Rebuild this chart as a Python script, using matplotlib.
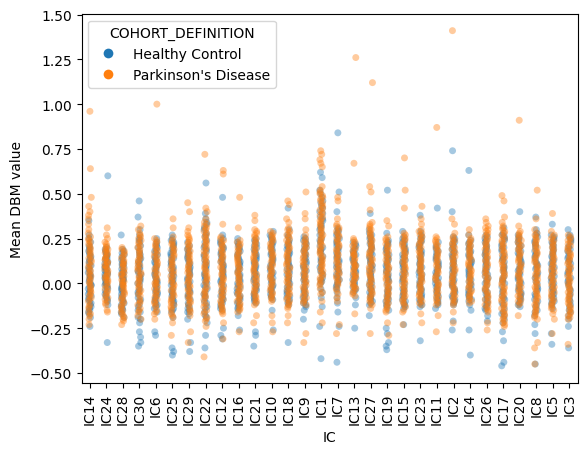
import numpy as np
import pandas as pd
import matplotlib
matplotlib.use("Agg")
import matplotlib.pyplot as plt
from matplotlib.lines import Line2D
import seaborn as sns

# Category order on the x axis
ICS = ["IC14", "IC24", "IC28", "IC30", "IC6", "IC25", "IC29", "IC22", "IC12", "IC16",
       "IC21", "IC10", "IC18", "IC9", "IC1", "IC7", "IC13", "IC27", "IC19", "IC15",
       "IC23", "IC11", "IC2", "IC4", "IC26", "IC17", "IC20", "IC8", "IC5", "IC3"]
GROUPS = ["Healthy Control", "Parkinson's Disease"]

# Values in hundredths of a DBM unit
HC_IC14 = [-24,-19,-17,-15,-13,-11,-9,-8,-6,-5,-3,-2,0,1,3,4,6,7,9,11,12,14,16,18,20,23,27,35, -14,-7,-1,5,10,15,19,
           -16,-12,-4,2,8,13,17,21,25,-10,-1,4]
PD_IC14 = [-23,-20,-18,-16,-14,-12,-10,-9,-7,-6,-4,-3,-1,0,2,3,5,6,8,9,11,12,14,15,17,19,21,23,25,28,30,33,36,38,40,43,48,64,96,
           -17,-13,-8,-5,-2,1,4,7,10,13,16,18,20,22,24,26]
HC_IC24 = [-33,-12,-10,-8,-6,-5,-3,-2,0,1,2,4,5,6,8,9,10,11,13,14,15,17,18,20,60, -7,-1,3,7,12,16,
           -9,-4,0,3,5,7,9,11,14,16,19,-1]
PD_IC24 = [-16,-15,-12,-10,-9,-7,-6,-4,-3,-2,0,1,2,3,4,5,7,8,9,10,11,12,13,14,16,17,18,19,20,21,23,25,27,31,
           -11,-8,-5,-1,2,4,6,8,10,12,14,15,17,19,22]
HC_IC28 = [-19,-17,-15,-13,-11,-9,-8,-6,-5,-3,-2,0,1,3,4,5,7,8,10,11,13,15,17,19,27, -16,-10,-4,2,6,12,18,
           -14,-12,-7,-1,2,4,6,9,11,14,16,-3]
PD_IC28 = [-23,-21,-20,-18,-16,-15,-13,-12,-10,-9,-7,-6,-5,-3,-2,-1,0,1,2,4,5,6,7,9,10,11,12,14,15,16,18,19,20,
           -19,-17,-14,-11,-8,-4,-1,1,3,5,8,11,13,17]
HC_IC30 = [-35,-33,-30,-27,-22,-19,-16,-13,-10,-8,-5,-3,-1,1,3,5,7,9,11,13,15,18,21,24,27,30,37,46, -15,-6,0,6,12,17,23,
           -20,-12,-9,-4,2,4,8,10,14,16,20,25]
PD_IC30 = [-20,-18,-16,-14,-12,-10,-9,-7,-5,-4,-2,-1,0,2,3,5,6,8,9,11,12,14,15,17,18,20,22,24,26,28,30,32,
           -15,-11,-6,-3,1,4,7,10,13,16,19,21,23,25,27]
HC_IC6 = [-29,-27,-16,-14,-12,-10,-8,-6,-5,-3,-1,0,2,3,5,7,9,11,13,15,17,19,21,23,25, -11,-4,1,6,10,16,20,
          -13,-9,-7,-2,1,4,8,12,14,18,22,-5]
PD_IC6 = [-20,-17,-15,-13,-12,-10,-8,-7,-5,-4,-2,-1,0,1,3,4,5,7,8,9,11,12,13,15,16,18,19,21,22,24,25,100,
          -16,-11,-9,-6,-3,0,2,6,10,14,17,20,23]
HC_IC25 = [-40,-38,-36,-19,-16,-14,-11,-9,-7,-5,-3,-1,1,3,5,7,9,11,13,15,17,19,21,23,25,27, -12,-6,0,6,12,18,24,
           -15,-10,-8,-4,2,4,8,10,14,16,20,22]
PD_IC25 = [-29,-22,-19,-17,-15,-13,-11,-10,-8,-6,-5,-3,-2,0,1,3,4,6,7,9,10,12,13,15,16,18,19,21,22,24,26,31,36,
           -18,-14,-12,-9,-7,-4,-1,2,5,8,11,14,17,20,23]
HC_IC29 = [-38,-33,-20,-17,-15,-13,-11,-9,-7,-5,-3,-1,1,3,5,7,9,11,13,15,17,19,21,23, -14,-6,0,6,12,18,
           -16,-12,-8,-4,2,4,8,10,14,16,20,-2]
PD_IC29 = [-33,-27,-18,-16,-14,-12,-10,-9,-7,-5,-4,-2,-1,1,2,4,5,7,8,10,11,13,14,16,17,19,21,23,25,27,29,31,40,45,
           -15,-11,-8,-6,-3,0,3,6,9,12,15,18,20,22,24,26]
HC_IC22 = [-36,-29,-22,-19,-16,-13,-10,-8,-5,-3,-1,1,3,5,8,10,12,15,18,21,24,27,30,33,36,39,56, -14,-6,0,6,13,20,28,34,
           -18,-11,-7,-2,2,4,9,11,16,19,23,26,31]
PD_IC22 = [-41,-24,-21,-19,-17,-15,-13,-11,-9,-7,-5,-4,-2,0,2,3,5,7,9,10,12,14,16,18,20,22,24,26,28,30,32,34,36,40,42,72,
           -20,-16,-12,-8,-6,-3,1,4,6,8,11,13,15,17,19,21,23,25,27,29,31,33]
HC_IC12 = [-31,-29,-25,-15,-13,-11,-9,-7,-5,-3,-1,1,3,5,7,9,11,13,15,17,19,21,23,25,27,48, -12,-6,0,6,12,18,24,
           -14,-10,-8,-4,2,4,8,10,14,16,20,22]
PD_IC12 = [-31,-22,-17,-15,-13,-12,-10,-8,-7,-5,-4,-2,-1,1,2,4,5,7,8,10,11,13,14,16,17,19,20,22,24,26,33,61,63,
           -16,-14,-11,-9,-6,-3,0,3,6,9,12,15,18,21,23,25]
HC_IC16 = [-26,-18,-15,-13,-11,-9,-7,-5,-3,-1,1,3,5,7,9,11,13,15,17,19,21,23,25, -12,-6,0,6,12,18,22,
           -14,-10,-8,-4,2,4,8,10,14,16,20,-2]
PD_IC16 = [-27,-16,-14,-12,-11,-9,-7,-6,-4,-3,-1,0,2,3,5,6,8,9,11,12,14,15,17,18,20,21,23,24,31,48,
           -15,-13,-10,-8,-5,-2,1,4,7,10,13,16,19,22]
HC_IC21 = [-35,-29,-27,-11,-9,-7,-5,-3,-1,1,3,5,7,9,11,13,15,17,19,21,23,25, -8,-2,4,10,16,22,
           -10,-6,-4,0,2,6,8,12,14,18,20,24]
PD_IC21 = [-22,-18,-12,-10,-9,-7,-6,-4,-3,-1,0,2,3,5,6,8,9,11,12,14,15,17,18,20,21,23,25,27,29,30,35,38,
           -11,-8,-5,-2,1,4,7,10,13,16,19,22,24,26,28]
HC_IC10 = [-26,-15,-9,-7,-5,-3,-1,1,3,5,7,9,11,13,15,17,19,21,23,25,27,29, -6,0,6,12,18,24,
           -8,-4,-2,2,4,8,10,14,16,20,22,26]
PD_IC10 = [-27,-22,-18,-10,-8,-7,-5,-4,-2,-1,1,2,4,5,7,8,10,11,13,14,16,17,19,20,22,23,25,27,29,
           -9,-6,-3,0,3,6,9,12,15,18,21,24,26,28]
HC_IC18 = [-33,-12,-10,-8,-6,-4,-2,0,2,4,6,8,10,12,14,16,18,20,22,24,27,30,42, -9,-3,3,9,15,21,26,
           -11,-7,-5,-1,1,5,7,11,13,17,19,23]
PD_IC18 = [-22,-18,-14,-12,-10,-9,-7,-5,-4,-2,-1,1,2,4,5,7,8,10,11,13,15,17,19,21,23,25,27,29,31,34,36,44,46,
           -13,-11,-8,-6,-3,0,3,6,9,12,14,16,18,20,22,24,26,28,30]
HC_IC9 = [-20,-15,-12,-10,-8,-6,-4,-2,0,2,4,6,8,10,12,14,16,18,20,22,24,26, -11,-5,1,7,13,19,25,
          -13,-9,-7,-3,3,5,9,11,15,17,21,23]
PD_IC9 = [-33,-28,-12,-10,-9,-7,-5,-4,-2,-1,1,2,4,5,7,8,10,11,13,14,16,17,19,20,22,24,27,30,36,39,51,
          -11,-8,-6,-3,0,3,6,9,12,15,18,21,23,25]
HC_IC1 = [-42,-24,-13,-8,-3,0,3,6,9,12,15,18,21,24,27,30,33,36,39,42,45,48,52,59,62, 1,7,13,19,25,31,37,43,
          -5,2,5,10,14,17,20,23,28,32,35,40,46,50]
PD_IC1 = [-22,-16,-10,-6,-3,0,2,4,6,8,10,12,14,16,18,20,22,24,26,28,30,32,34,36,38,40,42,44,46,48,50,52,54,65,67,69,72,74,
          -5,-1,1,3,5,7,9,11,13,15,17,19,21,23,25,27,29,31,33,35,37,39,41,43,45,47,49,51]
HC_IC7 = [-44,-24,-16,-11,-5,-3,-1,1,3,5,7,9,11,13,15,17,19,21,23,25,27,29,31,40,51,84, -2,4,10,16,22,28,
          -8,0,2,6,8,12,14,18,20,24,26,30]
PD_IC7 = [-28,-23,-10,-6,-3,-1,1,2,4,5,7,8,10,11,13,14,16,17,19,20,22,23,25,26,28,29,31,33,36,46,48,
          -8,-4,0,3,6,9,12,15,18,21,24,27,30,32]
HC_IC13 = [-25,-12,-5,-3,-1,1,3,5,7,9,11,13,15,17,19,21,23, -2,4,10,16,22,
           -4,0,2,6,8,12,14,18,20,-8]
PD_IC13 = [-17,-7,-4,-2,-1,1,2,4,5,7,8,10,11,13,14,16,17,19,20,22,23,25,67,126,
           -5,-3,0,3,6,9,12,15,18,21,24,-6,-2,4,10,16]
HC_IC27 = [-18,-12,-10,-8,-6,-4,-2,0,2,4,6,8,10,12,14,16,18,20,22,24,26,28,30,39, -9,-3,3,9,15,21,27,
           -11,-7,-5,-1,1,5,7,11,13,17,19,23,25]
PD_IC27 = [-28,-14,-11,-9,-7,-6,-4,-2,-1,1,3,4,6,7,9,10,12,14,15,17,18,20,22,23,25,27,29,31,33,34,41,51,54,112,
           -12,-10,-8,-5,-3,0,2,5,8,11,13,16,19,21,24,26,28,30,32]
HC_IC19 = [-37,-35,-33,-28,-25,-15,-12,-10,-8,-6,-4,-2,0,2,4,6,8,10,12,14,16,18,20,22,24,28,52, -11,-5,1,7,13,19,
           -13,-9,-7,-3,3,5,9,11,15,17,21,23]
PD_IC19 = [-29,-22,-16,-14,-12,-10,-9,-7,-5,-4,-2,-1,1,2,4,5,7,8,10,11,13,14,16,17,19,20,22,24,26,32,35,
           -15,-13,-11,-8,-6,-3,0,3,6,9,12,15,18,21,23,25]
HC_IC15 = [-23,-14,-12,-10,-8,-6,-4,-2,0,2,4,6,8,10,12,14,16,18,20,22,24,26,29, -11,-5,1,7,13,19,25,
           -13,-9,-7,-3,3,5,9,11,15,17,21,23]
PD_IC15 = [-23,-16,-13,-11,-10,-8,-6,-5,-3,-2,0,1,3,4,6,7,9,10,12,13,15,16,18,19,21,22,24,26,28,42,52,70,
           -15,-12,-9,-7,-4,-1,2,5,8,11,14,17,20,23,25,27]
HC_IC23 = [-32,-13,-11,-9,-7,-5,-3,-1,1,3,5,7,9,11,13,15,17,19,21,23,25,27,29,38, -10,-4,2,8,14,20,26,
           -12,-8,-6,-2,0,4,6,10,12,16,18,22,24]
PD_IC23 = [-22,-17,-12,-10,-9,-7,-6,-4,-3,-1,0,2,3,5,6,8,9,11,12,14,15,17,18,20,22,24,26,28,30,33,36,43,
           -11,-8,-5,-2,1,4,7,10,13,16,19,21,23,25,27,29]
HC_IC11 = [-14,-11,-9,-7,-5,-3,-1,1,3,5,7,9,11,13,15,17,19,21,23,42, -10,-4,2,8,14,20,
           -12,-8,-6,-2,0,4,6,10,12,16,18]
PD_IC11 = [-27,-18,-12,-10,-9,-7,-6,-4,-3,-1,0,2,3,5,6,8,9,11,12,14,15,17,18,20,22,24,26,87,
           -11,-8,-5,-2,1,4,7,10,13,16,19,21,23,25]
HC_IC2 = [-26,-21,-12,-10,-8,-6,-4,-2,0,2,4,6,8,10,12,14,16,18,20,22,24,26,40,74, -9,-3,3,9,15,21,25,
          -11,-7,-5,-1,1,5,7,11,13,17,19,23]
PD_IC2 = [-22,-16,-12,-10,-9,-7,-6,-4,-3,-1,0,2,3,5,6,8,9,11,12,14,15,17,18,20,21,23,25,28,33,36,141,
          -11,-8,-5,-2,1,4,7,10,13,16,19,22,24,26]
HC_IC4 = [-40,-26,-15,-10,-8,-6,-4,-2,0,2,4,6,8,10,12,14,16,18,20,22,24,27,63, -9,-3,3,9,15,21,
          -12,-7,-5,-1,1,5,7,11,13,17,19,23]
PD_IC4 = [-11,-9,-8,-6,-5,-3,-2,0,1,3,4,6,7,9,10,12,13,15,16,18,19,21,22,24,25,30,
          -10,-7,-4,-1,2,5,8,11,14,17,20,23,27]
HC_IC26 = [-21,-15,-13,-11,-9,-7,-5,-3,-1,1,3,5,7,9,11,13,15,17,19,21,23,25,27, -12,-6,0,6,12,18,24,
           -18,-14,-10,-8,-4,2,4,8,10,14,16,20,22,26]
PD_IC26 = [-26,-22,-16,-14,-12,-10,-9,-7,-5,-4,-2,-1,1,2,4,5,7,8,10,11,13,14,16,18,20,22,24,26,28,30,32,34,36,
           -15,-13,-11,-8,-6,-3,0,3,6,9,12,15,17,19,21,23,25,27,29,31]
HC_IC17 = [-46,-44,-32,-27,-20,-17,-14,-11,-8,-5,-2,1,4,7,10,13,16,19,22,25,28,31, -16,-7,2,8,14,20,26,
           -22,-18,-12,-9,-4,0,3,6,9,12,15,18,21,24,27]
PD_IC17 = [-24,-22,-20,-18,-16,-14,-12,-10,-8,-6,-4,-2,0,2,4,6,8,10,12,14,16,18,20,22,24,26,28,30,32,34,37,46,49,
           -23,-21,-19,-17,-15,-13,-11,-9,-7,-5,-3,-1,1,3,5,7,9,11,13,15,17,19,21,23,25,27,29,31]
HC_IC20 = [-13,-11,-9,-7,-5,-3,-1,1,3,5,7,9,11,13,15,17,19,21,23,25,27,40, -10,-4,2,8,14,20,26,
           -12,-8,-6,-2,0,4,6,10,12,16,18,22,24]
PD_IC20 = [-18,-12,-10,-9,-7,-6,-4,-3,-1,0,2,3,5,6,8,9,11,12,14,15,17,18,20,21,23,25,27,29,32,91,
           -11,-8,-5,-2,1,4,7,10,13,16,19,22,24,26,28]
HC_IC8 = [-45,-28,-23,-18,-15,-12,-9,-6,-3,0,3,6,9,12,15,18,21,24,27,30,37, -13,-4,4,10,16,22,28,
          -16,-10,-7,-2,1,5,8,11,14,17,20,23,26]
PD_IC8 = [-45,-36,-33,-20,-18,-16,-14,-12,-10,-8,-6,-4,-2,0,2,4,6,8,10,12,14,16,18,20,22,24,26,28,30,36,52,
          -19,-17,-15,-13,-11,-9,-7,-5,-3,-1,1,3,5,7,9,11,13,15,17,19,21,23,25,27]
HC_IC5 = [-34,-28,-14,-11,-9,-7,-5,-3,-1,1,3,5,7,9,11,13,15,17,19,21,23,25,27,33, -10,-4,2,8,14,20,26,
          -12,-8,-6,-2,0,4,6,10,12,16,18,22,24]
PD_IC5 = [-28,-20,-17,-14,-12,-10,-9,-7,-5,-4,-2,-1,1,2,4,5,7,8,10,11,13,14,16,17,19,21,23,25,27,29,39,
          -15,-13,-11,-8,-6,-3,0,3,6,9,12,15,18,20,22,24,26]
HC_IC3 = [-36,-24,-18,-15,-12,-9,-6,-3,0,3,6,9,12,15,18,21,24,27,30, -16,-10,-4,2,8,14,20,26,
          -20,-13,-7,-1,1,5,7,11,13,17,19,23,25]
PD_IC3 = [-34,-20,-18,-16,-14,-12,-10,-8,-6,-4,-2,0,2,4,6,8,10,12,14,16,18,20,22,24,26,27,
          -19,-17,-15,-13,-11,-9,-7,-5,-3,-1,1,3,5,7,9,11,13,15,17,19,21,23,25]

HC = {ic: globals()["HC_" + ic] for ic in ICS}
PD = {ic: globals()["PD_" + ic] for ic in ICS}

rows = []
for ic in ICS:
    for v in HC[ic]:
        rows.append((ic, GROUPS[0], v / 100.0))
    for v in PD[ic]:
        rows.append((ic, GROUPS[1], v / 100.0))
df = pd.DataFrame(rows, columns=["IC", "COHORT_DEFINITION", "Mean DBM value"])

np.random.seed(3)
fig, ax = plt.subplots(figsize=(6.4, 4.8), dpi=100)
sns.stripplot(data=df, x="IC", y="Mean DBM value", hue="COHORT_DEFINITION",
              order=ICS, hue_order=GROUPS, alpha=0.4, size=5, jitter=True, ax=ax,
              legend=False)
ax.set_ylim(-0.557, 1.505)
ax.set_yticks([-0.5, -0.25, 0.0, 0.25, 0.5, 0.75, 1.0, 1.25, 1.5])
ax.tick_params(axis="x", rotation=90)
handles = [Line2D([], [], marker="o", linestyle="none", markersize=7,
                  markerfacecolor=c, markeredgewidth=0, color=c)
           for c in ["#1f77b4", "#ff7f0e"]]
ax.legend(handles, GROUPS, title="COHORT_DEFINITION", loc="upper left")
fig.savefig("out.png", dpi=100, bbox_inches="tight")
